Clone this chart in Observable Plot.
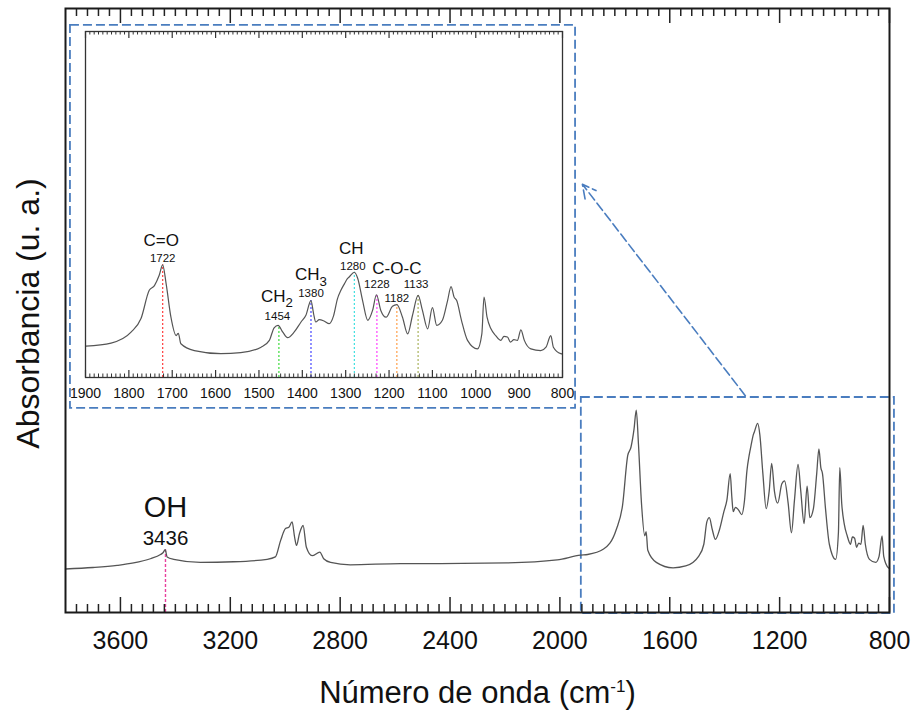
<!DOCTYPE html>
<html><head><meta charset="utf-8">
<script src="https://cdn.jsdelivr.net/npm/d3@7"></script>
<script src="https://cdn.jsdelivr.net/npm/@observablehq/plot@0.6"></script>
<style>
body{margin:0;background:#fff;}
#wrap{position:relative;width:914px;height:713px;background:#fff;}
#wrap svg{position:absolute;left:0;top:0;}
</style></head><body><div id="wrap"></div>
<script>
// ---- data ----
const wavenumber = [3800,3700,3612,3552,3491,3454,3445,3437,3430,3406,
  3309,3188,3066,3036,3017,2999,2987,2975,2966,2959,
  2948,2935,2923,2902,2874,2860,2835,2763,2580,2435,
  2192,2010,1925,1899,1841,1795,1772,1753,1741,1730,
  1722,1714,1703,1691,1686,1680,1649,1588,1542,1495,
  1476,1465,1456,1445,1434,1419,1403,1392,1380,1374,
  1369,1361,1350,1338,1328,1319,1311,1303,1296,1292,
  1280,1272,1261,1249,1238,1229,1219,1207,1192,1182,
  1169,1157,1146,1133,1123,1111,1100,1090,1077,1065,
  1057,1050,1044,1033,1019,996,986,981,974,965,
  954,942,935,927,920,912,904,896,888,873,
  850,838,827,821,804,800];
const absorbance = [7.2,7.45,7.8,8.2,8.9,9.6,9.9,10.4,9.2,8.8,
  8.3,8.4,8.8,9.2,11.9,13.9,14.1,15.0,12.5,11.1,
  13.1,14.4,10.8,9.4,10.0,8.9,8.3,7.9,8.1,8.1,
  8.2,8.7,9.5,9.6,10.5,13.7,17.7,26.0,27.4,30.4,
  33.5,27.9,18.1,12.7,13.4,10.3,8.3,7.4,7.7,9.3,
  11.3,15.0,15.7,13.7,12.1,13.7,16.7,18.6,23.0,19.1,
  16.7,17.4,17.0,16.2,18.5,23.5,26.0,27.9,29.4,29.9,
  31.3,29.4,23.0,17.2,20.1,24.7,20.1,18.1,21.3,21.8,
  18.1,13.2,18.6,24.5,20.1,14.7,20.9,15.7,17.2,23.0,
  27.1,24.0,23.0,17.2,11.3,8.8,13.2,24.0,18.1,14.7,
  12.7,11.3,12.5,12.3,10.8,11.5,11.3,14.4,11.3,8.8,
  8.3,9.3,12.7,9.3,7.4,7.3];

const mainTicks = [3600, 3200, 2800, 2400, 2000, 1600, 1200, 800];
const insetTicks = [1900, 1800, 1700, 1600, 1500, 1400, 1300, 1200, 1100, 1000, 900, 800];

const ohPeak = {w: 3436, a: 10.4, name: "OH"};
const peakWavenumbers = [1722, 1454, 1380, 1280, 1228, 1182, 1133];
const peakValues = [33.5, 15.7, 23.0, 31.3, 24.7, 21.8, 24.5];
const groupNames = ["C=O", "CH_{2}", "CH_{3}", "CH", "C-O-C"];
const groupPeaks = [1722, 1454, 1380, 1280, 1182];

// annotation boxes / arrow in main-chart data units
const zoomBox = {x1: 1922, x2: 782, y1: -0.2, y2: 35.6};
const insetBox = {x1: 3782, x2: 1943, y1: 33.8, y2: 97.2};
const arrowSeg = {x1: 1325, y1: 35.9, x2: 1918, y2: 70.9};

const xTitle = "Número de onda (cm^{-1})";
const yTitle = "Absorbancia (u. a.)";

// ---- styles ----
const FONT = "'Liberation Sans', Arial, Helvetica, sans-serif";
const BLUE = "#4a7dbf";
const peakColors = ["#ff3b3b", "#3ddc3d", "#4646ff", "#3fe0e0", "#ff40ff", "#ffa04a", "#a9b25c"];
const groupDy = [-24.7, -28.6, -25.5, -23.9, -36.2];
const groupDx = [-1.5, -2, 0, -3, 0];
const numberDy = [-6.3, -8.6, -7.1, -5.5, -10.7, -6.1, -11.4];
const numberDx = [0, -1.5, 0, -1.5, 0, 0, -2];

const spectrum = wavenumber.map((w, i) => ({w, a: absorbance[i]}));
const peaks = peakWavenumbers.map((w, i) => ({w, a: peakValues[i], color: peakColors[i], label: String(w)}));
const groups = groupNames.map((name, i) => {
  const k = peakWavenumbers.indexOf(groupPeaks[i]);
  return {w: groupPeaks[i], a: peakValues[k], name};
});

const MAIN_FRAME_H = 604;
const INSET_FRAME_H = 346;

const mainMinor = d3.range(3760, 800, -40).filter(v => v % 400 !== 0);
const insetMinor = d3.range(1890, 800, -10).filter(v => v % 100 !== 0);

const main = Plot.plot({
  width: 914, height: 713,
  marginLeft: 65, marginRight: 25, marginTop: 8, marginBottom: 101,
  style: {fontFamily: FONT, background: "transparent", overflow: "visible", color: "#111"},
  x: {domain: [3800, 800]},
  y: {domain: [0, 100], axis: null},
  marks: [
    Plot.rect([zoomBox], {x1: "x1", x2: "x2", y1: "y1", y2: "y2", fill: "none", stroke: BLUE, strokeWidth: 1.8, strokeDasharray: "9,4"}),
    Plot.rect([insetBox], {x1: "x1", x2: "x2", y1: "y1", y2: "y2", fill: "none", stroke: BLUE, strokeWidth: 1.8, strokeDasharray: "9,4"}),
    Plot.arrow([arrowSeg], {x1: "x1", y1: "y1", x2: "x2", y2: "y2", stroke: BLUE, strokeWidth: 1.6, strokeDasharray: "9,4", headLength: 14, headAngle: 55}),
    Plot.ruleX([ohPeak], {x: "w", y1: 0, y2: "a", stroke: "#e8409c", strokeWidth: 1.4, strokeDasharray: "3,2"}),
    Plot.line(spectrum, {x: "w", y: "a", stroke: "#555", strokeWidth: 1.3, curve: "monotone-x"}),
    Plot.ruleX(mainMinor, {x: d => d, insetTop: MAIN_FRAME_H - 8, stroke: "#222", strokeWidth: 1.5}),
    Plot.ruleX(mainTicks, {x: d => d, insetTop: MAIN_FRAME_H - 15, stroke: "#222", strokeWidth: 1.5}),
    Plot.ruleX(mainMinor, {x: d => d, insetBottom: MAIN_FRAME_H - 8, stroke: "#222", strokeWidth: 1.5}),
    Plot.ruleX(mainTicks, {x: d => d, insetBottom: MAIN_FRAME_H - 15, stroke: "#222", strokeWidth: 1.5}),
    Plot.axisX(mainTicks, {anchor: "bottom", tickSize: 0, tickPadding: 18.5, fontSize: 25, label: null, tickFormat: d => String(d), fill: "#111"}),
    Plot.text([ohPeak], {x: "w", y: "a", text: "name", dy: -41.8, fontSize: 29, fill: "#111"}),
    Plot.text([ohPeak], {x: "w", y: "a", text: d => String(d.w), dy: -10.8, fontSize: 20.5, fill: "#111"}),
    Plot.text([xTitle], {frameAnchor: "bottom", text: d => d, textAnchor: "middle", lineAnchor: "middle", dy: 81, fontSize: 31, fill: "#111"}),
    Plot.text([yTitle], {frameAnchor: "left", text: d => d, textAnchor: "middle", lineAnchor: "middle", rotate: -90, dx: -37, dy: 3, fontSize: 32, fill: "#111"}),
    Plot.frame({stroke: "#1a1a1a", strokeWidth: 2})
  ]
});

const inset = Plot.plot({
  width: 527, height: 381,
  marginLeft: 20, marginRight: 30, marginTop: 5, marginBottom: 30,
  style: {fontFamily: FONT, background: "transparent", overflow: "visible", color: "#111"},
  x: {domain: [1900, 800]},
  y: {domain: [0.4, 102], axis: null},
  color: {type: "identity"},
  marks: [
    Plot.frame({fill: "white", stroke: "none"}),
    Plot.ruleX(peaks, {x: "w", y1: 0.4, y2: "a", stroke: "color", strokeWidth: 1.2, strokeDasharray: "2,2"}),
    Plot.line(spectrum, {x: "w", y: "a", stroke: "#555", strokeWidth: 1.2, curve: "monotone-x", clip: true}),
    Plot.ruleX(insetMinor, {x: d => d, insetTop: INSET_FRAME_H - 3.5, stroke: "#333", strokeWidth: 1}),
    Plot.ruleX(insetTicks, {x: d => d, insetTop: INSET_FRAME_H - 7, stroke: "#333", strokeWidth: 1.2}),
    Plot.ruleX(insetMinor, {x: d => d, insetBottom: INSET_FRAME_H - 3.5, stroke: "#333", strokeWidth: 1}),
    Plot.ruleX(insetTicks, {x: d => d, insetBottom: INSET_FRAME_H - 7, stroke: "#333", strokeWidth: 1.2}),
    Plot.axisX(insetTicks, {anchor: "bottom", tickSize: 0, tickPadding: 11, fontSize: 14, label: null, tickFormat: d => String(d), fill: "#111"}),
    ...groups.map((g, i) => Plot.text([g], {x: "w", y: "a", text: "name", dx: groupDx[i], dy: groupDy[i], fontSize: 17, fill: "#111"})),
    ...peaks.map((p, i) => Plot.text([p], {x: "w", y: "a", text: "label", dx: numberDx[i], dy: numberDy[i], fontSize: 11.5, fill: "#111"})),
    Plot.frame({stroke: "#333", strokeWidth: 1.3})
  ]
});

const wrap = document.getElementById("wrap");
wrap.appendChild(main);
inset.style.left = "65px";
inset.style.top = "26px";
wrap.appendChild(inset);

// rich text: _{sub} and ^{sup}
function richify(svg) {
  const NS = "http://www.w3.org/2000/svg";
  svg.querySelectorAll("text").forEach(t => {
    const s = t.textContent;
    if (!/[\^_]\{/.test(s)) return;
    const fs = parseFloat(getComputedStyle(t).fontSize) || 16;
    const parts = s.split(/([\^_]\{[^}]*\})/).filter(p => p !== "");
    t.textContent = "";
    let shift = 0;
    parts.forEach(p => {
      const ts = document.createElementNS(NS, "tspan");
      let target = 0;
      if (p[0] === "_" && p[1] === "{") {
        target = 0.3 * fs;
        ts.setAttribute("font-size", (0.78 * fs) + "px");
        ts.textContent = p.slice(2, -1);
      } else if (p[0] === "^" && p[1] === "{") {
        target = -0.36 * fs;
        ts.setAttribute("font-size", (0.55 * fs) + "px");
        ts.textContent = p.slice(2, -1);
      } else {
        ts.textContent = p;
      }
      ts.setAttribute("dy", (target - shift) + "px");
      shift = target;
      t.appendChild(ts);
    });
  });
}
richify(main);
richify(inset);
</script></body></html>
